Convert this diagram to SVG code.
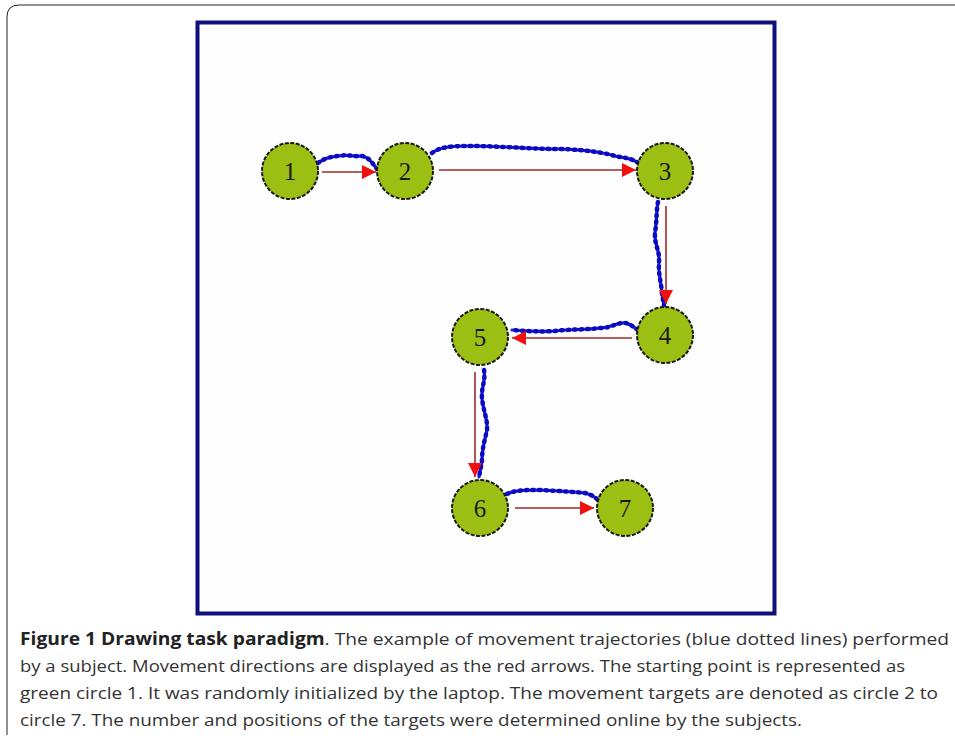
<svg xmlns="http://www.w3.org/2000/svg" width="955" height="739" viewBox="0 0 955 739">
<defs>
<style>
.node circle{fill:#9cbf14;stroke:#1a1a10;stroke-width:2;stroke-dasharray:4 1.5}
.node text{font-family:"Liberation Serif",serif;font-size:25px;fill:#1a1a1a;text-anchor:middle}
.arrow{stroke:#a02828;stroke-width:1.6;fill:none;marker-end:url(#ah)}
.traj{fill:none;stroke:#1f1fe6;stroke-width:3.2;stroke-linecap:round;stroke-linejoin:round}
.trajd{fill:none;stroke:#0a0ac0;stroke-width:4.5;stroke-dasharray:1.5 5;stroke-linecap:round}
.cap{font-family:"Open Sans",sans-serif;font-size:17px;fill:#333}
</style>
<marker id="ah" viewBox="0 0 10 10" refX="10" refY="5" markerWidth="22" markerHeight="14" markerUnits="userSpaceOnUse" orient="auto"><path d="M0,0 L10,5 L0,10 Z" fill="#f01010"/></marker>
</defs>
<rect width="955" height="739" fill="#fff"/>
<path d="M7,735 V17 Q7,5 19,5 H955" fill="none" stroke="#222" stroke-width="1"/>
<rect x="197.5" y="22.5" width="577" height="591" fill="#fefefe" stroke="#10107a" stroke-width="4"/>
<g id="connectors">
<path class="traj" d="M318,163 C325,158 330,157 338,156 C348,154 355,157 362,156 C370,158 372,163 377,169"/>
<path class="trajd" d="M318,163 C325,158 330,157 338,156 C348,154 355,157 362,156 C370,158 372,163 377,169"/>
<path class="traj" d="M432,153 C440,147 450,146 470,146 C500,146 530,149 560,149 C590,150 605,153 615,156 C625,158 632,158 640,164"/>
<path class="trajd" d="M432,153 C440,147 450,146 470,146 C500,146 530,149 560,149 C590,150 605,153 615,156 C625,158 632,158 640,164"/>
<path class="traj" d="M658,202 C656,212 657,222 655,232 C654,245 660,250 659,262 C658,275 662,285 662,295 C663,300 664,303 664,307"/>
<path class="trajd" d="M658,202 C656,212 657,222 655,232 C654,245 660,250 659,262 C658,275 662,285 662,295 C663,300 664,303 664,307"/>
<path class="traj" d="M638,330 C632,326 628,322 622,323 C614,324 610,328 600,328 C585,330 570,329 555,331 C540,332 525,331 512,330"/>
<path class="trajd" d="M638,330 C632,326 628,322 622,323 C614,324 610,328 600,328 C585,330 570,329 555,331 C540,332 525,331 512,330"/>
<path class="traj" d="M484,370 C486,380 481,388 482,398 C483,410 488,420 487,430 C485,440 482,448 482,460 C481,468 480,472 479,477"/>
<path class="trajd" d="M484,370 C486,380 481,388 482,398 C483,410 488,420 487,430 C485,440 482,448 482,460 C481,468 480,472 479,477"/>
<path class="traj" d="M507,494 C515,490 525,490 540,490 C560,491 575,492 585,493 C592,495 595,497 598,500"/>
<path class="trajd" d="M507,494 C515,490 525,490 540,490 C560,491 575,492 585,493 C592,495 595,497 598,500"/>
<path class="arrow" d="M322,172 H376"/>
<path class="arrow" d="M439,170 H636"/>
<path class="arrow" d="M666,206 V304"/>
<path class="arrow" d="M632,338 H512"/>
<path class="arrow" d="M475,372 V477"/>
<path class="arrow" d="M515,508 H594"/>
</g>
<g id="n1" class="node"><circle cx="290" cy="171" r="28"/><text x="290" y="180">1</text></g>
<g id="n2" class="node"><circle cx="405" cy="171" r="28"/><text x="405" y="180">2</text></g>
<g id="n3" class="node"><circle cx="665" cy="171" r="28"/><text x="665" y="180">3</text></g>
<g id="n4" class="node"><circle cx="665" cy="335" r="28"/><text x="665" y="344">4</text></g>
<g id="n5" class="node"><circle cx="480" cy="337" r="28"/><text x="480" y="346">5</text></g>
<g id="n6" class="node"><circle cx="480" cy="508" r="28"/><text x="480" y="517">6</text></g>
<g id="n7" class="node"><circle cx="625" cy="508" r="28"/><text x="625" y="517">7</text></g>
<g id="caption">
<text class="cap" x="20" y="645" textLength="929" lengthAdjust="spacingAndGlyphs"><tspan font-weight="bold" fill="#222">Figure 1 Drawing task paradigm</tspan>. The example of movement trajectories (blue dotted lines) performed</text>
<text class="cap" x="20" y="672" textLength="885" lengthAdjust="spacingAndGlyphs">by a subject. Movement directions are displayed as the red arrows. The starting point is represented as</text>
<text class="cap" x="20" y="699" textLength="918" lengthAdjust="spacingAndGlyphs">green circle 1. It was randomly initialized by the laptop. The movement targets are denoted as circle 2 to</text>
<text class="cap" x="20" y="726" textLength="782" lengthAdjust="spacingAndGlyphs">circle 7. The number and positions of the targets were determined online by the subjects.</text>
</g>
</svg>
